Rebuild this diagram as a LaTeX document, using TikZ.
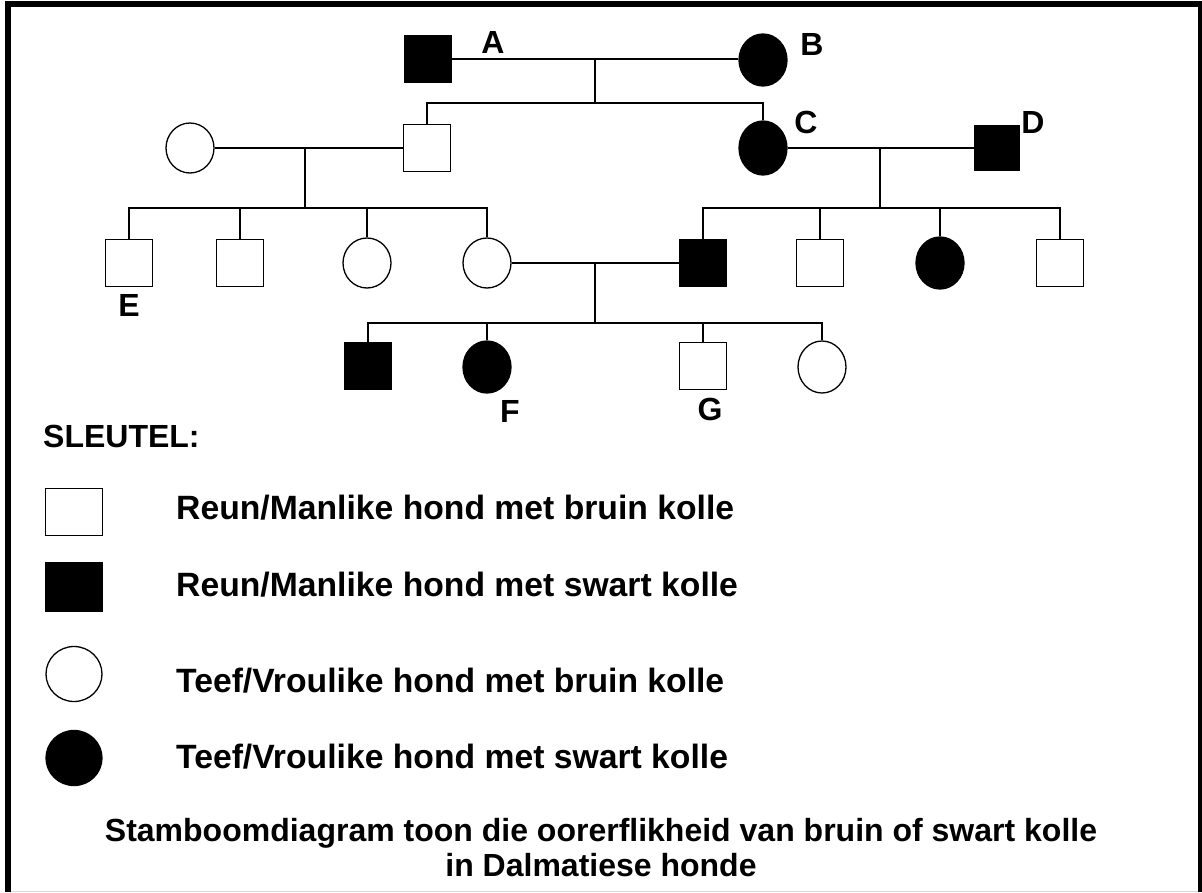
\documentclass[tikz,border=0pt]{standalone}
\usepackage{fontspec}
\setmainfont{Liberation Sans}
\usetikzlibrary{positioning,shapes.geometric}

\tikzset{
    male/.style={draw, line width=1.3pt, minimum size=47pt, inner sep=0pt},
    female/.style={draw, ellipse, line width=1.3pt, minimum width=48pt, minimum height=50pt, inner sep=0pt},
    aff/.style={fill=black},
    link/.style={line width=2pt},
    lbl/.style={font=\fontsize{32}{38}\selectfont\bfseries, inner sep=0pt},
    keytext/.style={font=\fontsize{33.7}{40}\selectfont\bfseries, anchor=west, inner sep=0pt}
}

\begin{document}
\begin{tikzpicture}[x=1pt, y=-1pt]
    \useasboundingbox (0,0) rectangle (1202,892);
    \fill[white] (0,0) rectangle (1202,892);
    % frame
    \draw[line width=6pt] (8,892) -- (8,4) -- (1201,4) -- (1201,892);
    \draw[black!15, line width=1pt] (11,891) -- (1198,891);

    % generation I
    \node[male, aff] (A) at (428,59) {};
    \node[female, aff, minimum height=52pt] (B) at (763,60) {};
    \node[lbl] at (493,42) {A};
    \node[lbl] at (812,44) {B};
    \draw[link] (A) -- (A -| B.west);
    \coordinate (AB) at (595,59);

    % generation II
    \node[female] (P1) at (190,148) {};
    \node[male] (P2) at (427,148) {};
    \node[female, aff, minimum height=54pt] (C) at (763,148) {};
    \node[male, aff, minimum size=44pt] (D) at (997,148) {};
    \node[lbl] at (806,122) {C};
    \node[lbl] at (1033,122) {D};
    \coordinate (AB2) at (595,103);
    \draw[link] (AB) -- (AB2);
    \draw[link] (P2.north) |- (AB2) -| (C.north);
    \draw[link] (P1) -- (P2);
    \draw[link] (C) -- (D);
    \coordinate (PP) at (305,148);
    \coordinate (CD) at (880,148);

    % generation III
    \node[male] (E) at (129,263) {};
    \node[male] (S2) at (240,263) {};
    \node[female] (S3) at (367,263) {};
    \node[female] (S4) at (487,263) {};
    \node[male, aff] (S5) at (703,263) {};
    \node[male] (S6) at (820,263) {};
    \node[female, aff, minimum height=52pt] (S7) at (940,263) {};
    \node[male] (S8) at (1060,263) {};
    \node[lbl] at (129,305) {E};
    \coordinate (PP2) at (305,208);
    \coordinate (CD2) at (880,208);
    \draw[link] (PP) -- (PP2);
    \draw[link] (E.north) |- (PP2) -| (S4.north);
    \draw[link] (S2.north) -- (S2.north |- PP2);
    \draw[link] (S3.north) -- (S3.north |- PP2);
    \draw[link] (CD) -- (CD2);
    \draw[link] (S5.north) |- (CD2) -| (S8.north);
    \draw[link] (S6.north) -- (S6.north |- CD2);
    \draw[link] (S7.north) -- (S7.north |- CD2);
    \draw[link] (S4) -- (S5);
    \coordinate (SS) at (595,263);

    % generation IV
    \node[male, aff] (K1) at (368,366) {};
    \node[female, aff, minimum height=52pt] (F) at (487,367) {};
    \node[male] (G) at (703,366) {};
    \node[female, minimum height=52pt] (K4) at (822,367) {};
    \node[lbl] at (510,411) {F};
    \node[lbl] at (710,409) {G};
    \coordinate (SS2) at (595,323);
    \draw[link] (SS) -- (SS2);
    \draw[link] (K1.north) |- (SS2) -| (K4.north);
    \draw[link] (F.north) -- (F.north |- SS2);
    \draw[link] (G.north) -- (G.north |- SS2);

    % key
    \node[lbl, anchor=west] (key) at (43,436) {SLEUTEL:};
    \node[male, minimum width=57pt, minimum height=47pt] (k1) at (74,512) {};
    \node[male, aff, minimum width=57pt, minimum height=49pt] (k2) at (74,587) {};
    \node[female, minimum width=56pt, minimum height=55pt] (k3) at (74,674) {};
    \node[female, aff, minimum width=56pt, minimum height=55pt] (k4) at (74,758) {};
    \node[keytext] at (176,508) {Reun/Manlike hond met bruin kolle};
    \node[keytext] at (176,585) {Reun/Manlike hond met swart kolle};
    \node[keytext] at (176,681) {Teef/Vroulike hond met bruin kolle};
    \node[keytext] at (176,757) {Teef/Vroulike hond met swart kolle};

    % caption
    \node[lbl, align=center, font=\fontsize{32}{35}\selectfont\bfseries] (cap) at (601,848)
        {Stamboomdiagram toon die oorerflikheid van bruin of swart kolle\\in Dalmatiese honde};
\end{tikzpicture}
\end{document}
